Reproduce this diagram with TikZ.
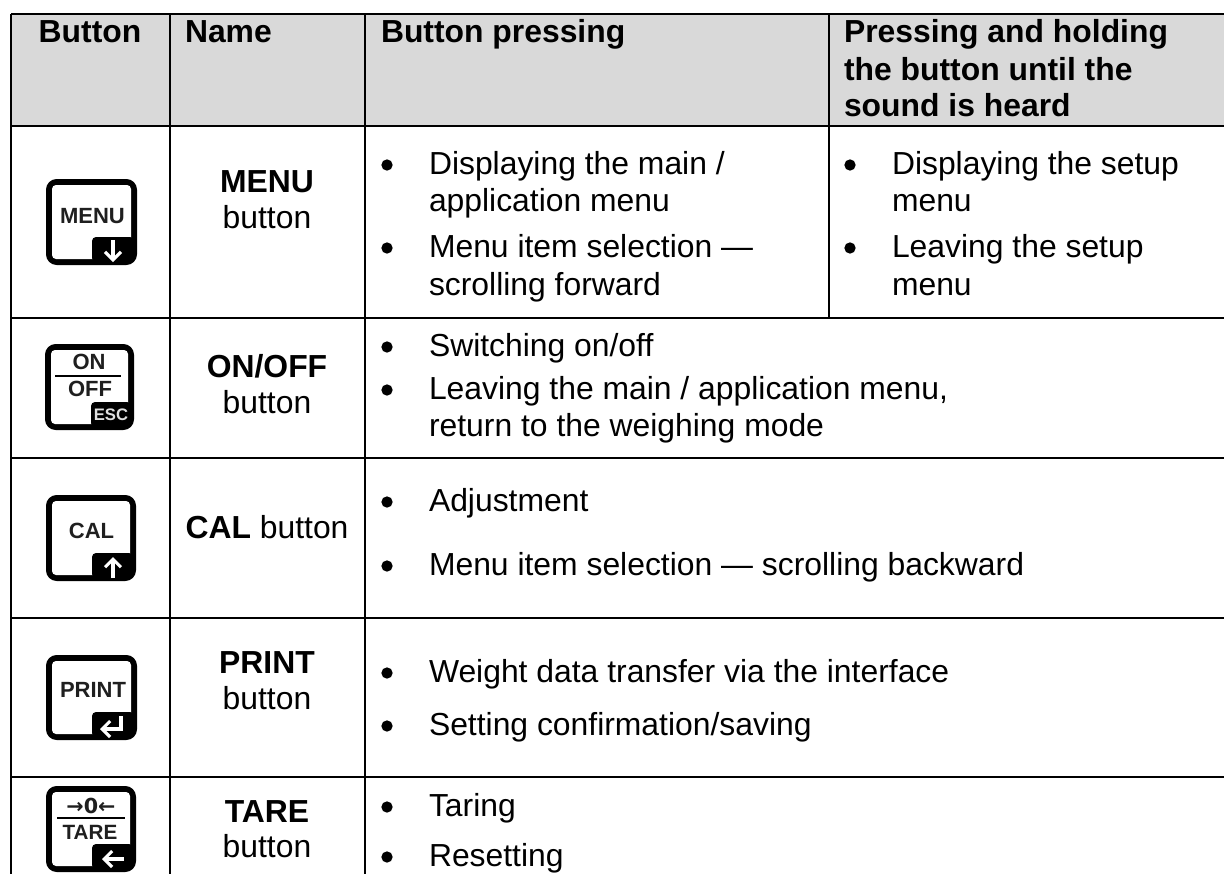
\documentclass[tikz,border=0pt]{standalone}
\usepackage{fontspec}
\setmainfont{Liberation Sans}
\newfontfamily\arrowfont{DejaVu Sans}
\usetikzlibrary{calc,arrows.meta}
\definecolor{hdr}{HTML}{D9D9D9}
\newcommand{\txtsize}{\fontsize{23.9pt}{25.5pt}\selectfont}
\tikzset{x=0.75pt,y=-0.75pt,
  rule/.style={line width=1.9pt,black},
  celltext/.style={inner sep=0pt,outer sep=0pt,font=\txtsize,anchor=base west,align=left},
  centertext/.style={inner sep=0pt,outer sep=0pt,font=\txtsize,anchor=base,align=center},
  dot/.style={circle,fill=black,inner sep=0pt,minimum size=8.5pt},
  keylabel/.style={inner sep=0pt,font=\bfseries\fontsize{16.5pt}{17pt}\selectfont,text=black!88},
  keyrule/.style={black,line width=1.5pt},
  keyarrow/.style={white,line width=2.3pt,-{Straight Barb[length=6pt,width=12pt,line width=2.3pt]}}}
% #1 = x, #2 = y of key's top-left corner, #3 = width, #4 = height
\newcommand{\keyframe}[4]{%
  \fill[black,rounded corners=8pt] (#1,#2) rectangle ++(#3,#4);
  \fill[white,rounded corners=3pt] ($(#1,#2)+(6,6)$) rectangle ($(#1,#2)+(#3-6,#4-6)$);
  \fill[black,rounded corners=3pt] ($(#1,#2)+(46,#4-28)$) rectangle ($(#1,#2)+(#3-3,#4-3)$);
}
\begin{document}
\begin{tikzpicture}
\useasboundingbox (0,0) rectangle (1224,874);
\fill[white] (0,0) rectangle (1224,874);
\fill[hdr] (11,14) rectangle (1224,126);
% text header
\node[centertext] (h1) at (90,43) {\textbf{Button}};
\node[celltext] (h2) at (185,43) {\textbf{Name}};
\node[celltext] (h3) at (381,43) {\textbf{Button pressing}};
\node[celltext] (h4a) at (844,43) {\textbf{Pressing and holding}};
\node[celltext] (h4b) at (844,80) {\textbf{the button until the}};
\node[celltext] (h4c) at (844,117) {\textbf{sound is heard}};
% names
\node[centertext] (n1a) at (267,192) {\textbf{MENU}};
\node[centertext] (n1b) at (267,228) {button};
\node[centertext] (n2a) at (267,377) {\textbf{ON/OFF}};
\node[centertext] (n2b) at (267,413) {button};
\node[centertext] (n3) at (267,538) {\textbf{CAL} button};
\node[centertext] (n4a) at (267,673) {\textbf{PRINT}};
\node[centertext] (n4b) at (267,709) {button};
\node[centertext] (n5a) at (267,822) {\textbf{TARE}};
\node[centertext] (n5b) at (267,857) {button};
% bullets and body
\foreach \nm/\bx/\by/\tx/\t in {
 b1/387/165/429/{Displaying the main /},
 b2/387/248/429/{Menu item selection —},
 b3/850/165/892/{Displaying the setup},
 b4/850/248/892/{Leaving the setup},
 b5/387/347/429/{Switching on/off},
 b6/387/390/429/{Leaving the main / application menu,},
 b7/387/502/429/{Adjustment},
 b8/387/566/429/{Menu item selection — scrolling backward},
 b9/387/673/429/{Weight data transfer via the interface},
 b10/387/726/429/{Setting confirmation/saving},
 b11/387/807/429/{Taring},
 b12/387/857/429/{Resetting}}{
  \node[dot] (\nm) at (\bx,\by) {};
  \node[celltext] (\nm t) at (\tx,\by+9) {\t};
}
\node[celltext] (c1) at (429,211) {application menu};
\node[celltext] (c2) at (429,295) {scrolling forward};
\node[celltext] (c3) at (892,211) {menu};
\node[celltext] (c4) at (892,295) {menu};
\node[celltext] (c5) at (429,436) {return to the weighing mode};
% rules
\draw[rule] (11,14) -- (1224,14);
\draw[rule] (11,126) -- (1224,126);
\draw[rule] (11,318) -- (1224,318);
\draw[rule] (11,458) -- (1224,458);
\draw[rule] (11,618) -- (1224,618);
\draw[rule] (11,777) -- (1224,777);
\draw[rule] (11,14) -- (11,874);
\draw[rule] (170,14) -- (170,874);
\draw[rule] (365,14) -- (365,874);
\draw[rule] (829,14) -- (829,318);
% keys
\keyframe{46}{179}{91}{86}
\node[keylabel] (k1) at (92.5,216.5) {MENU};
\draw[keyarrow] (113,240) -- (113,262);
\keyframe{45}{344}{89}{86}
\node[keylabel] (k2a) at (89,362) {ON};
\draw[keyrule] (55,376) -- (121,376);
\node[keylabel] (k2b) at (90,389) {OFF};
\node[keylabel,text=white!88!black,font=\bfseries\fontsize{12.5pt}{13pt}\selectfont] (k2c) at (111,415) {ESC};
\keyframe{46}{495}{90}{86}
\node[keylabel] (k3) at (91.5,531) {CAL};
\draw[keyarrow] (113,578) -- (113,557);
\keyframe{46}{655}{91}{85}
\node[keylabel] (k4) at (93,689.5) {PRINT};
\draw[keyarrow] (121,716) -- (121,729) -- (100,729);
\keyframe{46}{786}{90}{86}
\node[keylabel,font=\bfseries\arrowfont\fontsize{15.5pt}{16pt}\selectfont] (k5a) at (91,806) {→0←};
\draw[keyrule] (57,818) -- (125,818);
\node[keylabel,font=\bfseries\fontsize{15.5pt}{16pt}\selectfont] (k5b) at (90,832) {TARE};
\draw[keyarrow] (124,859) -- (102,859);
\end{tikzpicture}
\end{document}
